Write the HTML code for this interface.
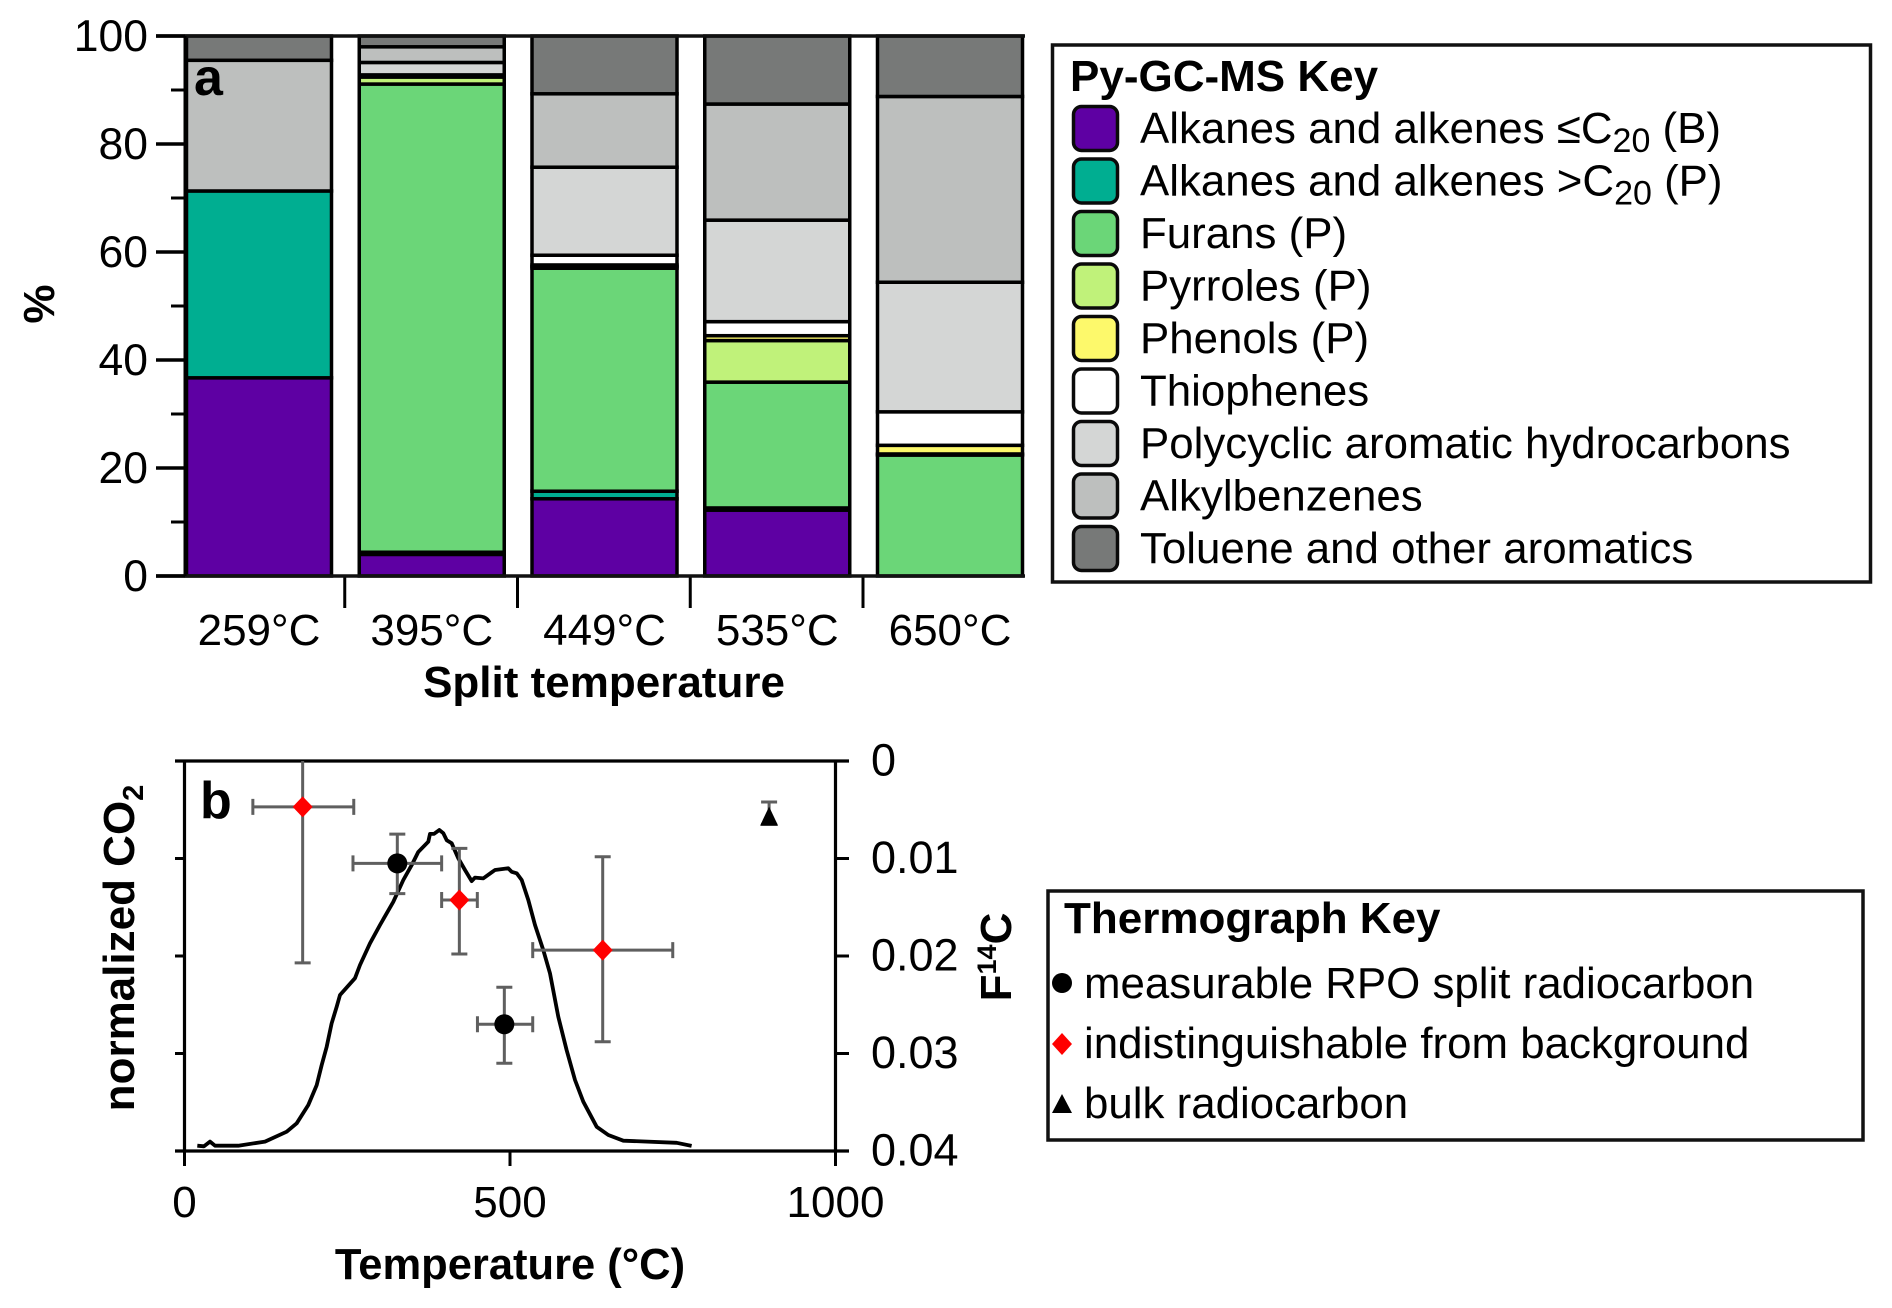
<!DOCTYPE html>
<html lang="en">
<head>
<meta charset="utf-8">
<title>Py-GC-MS and thermograph chart</title>
<style>
html,body{margin:0;padding:0;background:#fff;}
svg{display:block;font-family:"Liberation Sans",Arial,sans-serif;}
text{fill:#000;}
.t{font-size:43.85px;}
.b{font-size:44px;font-weight:bold;}
</style>
</head>
<body>
<svg id="fig" width="1892" height="1308" viewBox="0 0 1892 1308" xmlns="http://www.w3.org/2000/svg">
  <g id="panelA"></g>
  <g id="panelB"></g>

  <text class="b" style="font-size:52px" x="194" y="95">a</text>
  <text class="b" style="font-size:52px" x="200" y="818">b</text>
  <text class="b" x="54" y="304" text-anchor="middle" transform="rotate(-90 54 304)">%</text>
  <text class="b" x="604" y="697" text-anchor="middle">Split temperature</text>
  <text class="b" style="font-size:43.5px" x="510" y="1279" text-anchor="middle">Temperature (°C)</text>
  <text class="b" x="134" y="948" text-anchor="middle" transform="rotate(-90 134 948)">normalized CO<tspan font-size="29" dy="9">2</tspan></text>
  <text class="b" x="1011" y="957" text-anchor="middle" transform="rotate(-90 1011 957)">F<tspan font-size="27" dy="-15">14</tspan><tspan dy="15">C</tspan></text>

  <g>
    <rect x="1052.5" y="45" width="818" height="537" fill="#fff" stroke="#111" stroke-width="3.5"/>
    <text class="b" x="1070" y="91">Py-GC-MS Key</text>
    <g>
      <rect x="1073.5" y="106.5" width="44" height="44" rx="8" fill="#5e00a3" stroke="#0a0a0a" stroke-width="3.5"/>
      <text class="t" x="1140" y="143">Alkanes and alkenes ≤C<tspan font-size="34" dy="9">20</tspan><tspan dy="-9"> (B)</tspan></text>
    </g>
    <g>
      <rect x="1073.5" y="159" width="44" height="44" rx="8" fill="#00ae91" stroke="#0a0a0a" stroke-width="3.5"/>
      <text class="t" x="1140" y="195.5">Alkanes and alkenes &gt;C<tspan font-size="34" dy="9">20</tspan><tspan dy="-9"> (P)</tspan></text>
    </g>
    <g>
      <rect x="1073.5" y="211.5" width="44" height="44" rx="8" fill="#6bd678" stroke="#0a0a0a" stroke-width="3.5"/>
      <text class="t" x="1140" y="248">Furans (P)</text>
    </g>
    <g>
      <rect x="1073.5" y="264" width="44" height="44" rx="8" fill="#c0f27a" stroke="#0a0a0a" stroke-width="3.5"/>
      <text class="t" x="1140" y="300.5">Pyrroles (P)</text>
    </g>
    <g>
      <rect x="1073.5" y="316.5" width="44" height="44" rx="8" fill="#fdf96b" stroke="#0a0a0a" stroke-width="3.5"/>
      <text class="t" x="1140" y="353">Phenols (P)</text>
    </g>
    <g>
      <rect x="1073.5" y="369" width="44" height="44" rx="8" fill="#ffffff" stroke="#0a0a0a" stroke-width="3.5"/>
      <text class="t" x="1140" y="405.5">Thiophenes</text>
    </g>
    <g>
      <rect x="1073.5" y="421.5" width="44" height="44" rx="8" fill="#d4d6d5" stroke="#0a0a0a" stroke-width="3.5"/>
      <text class="t" x="1140" y="458">Polycyclic aromatic hydrocarbons</text>
    </g>
    <g>
      <rect x="1073.5" y="474" width="44" height="44" rx="8" fill="#bdbfbe" stroke="#0a0a0a" stroke-width="3.5"/>
      <text class="t" x="1140" y="510.5">Alkylbenzenes</text>
    </g>
    <g>
      <rect x="1073.5" y="526.5" width="44" height="44" rx="8" fill="#777978" stroke="#0a0a0a" stroke-width="3.5"/>
      <text class="t" x="1140" y="563">Toluene and other aromatics</text>
    </g>
  </g>

  <g>
    <rect x="1048" y="891" width="815" height="249" fill="#fff" stroke="#111" stroke-width="3.5"/>
    <text class="b" x="1064" y="933">Thermograph Key</text>
    <g>
      <circle cx="1062" cy="983" r="10" fill="#000"/>
      <text class="t" x="1084" y="998">measurable RPO split radiocarbon</text>
    </g>
    <g>
      <polygon points="1062,1033 1072,1044 1062,1055 1052,1044" fill="#f00"/>
      <text class="t" x="1084" y="1058">indistinguishable from background</text>
    </g>
    <g>
      <polygon points="1062,1094 1072,1113 1052,1113" fill="#000"/>
      <text class="t" x="1084" y="1118">bulk radiocarbon</text>
    </g>
  </g>
</svg>

<script>
/* ---------- Panel a data ---------- */
const splitTemps = ['259°C', '395°C', '449°C', '535°C', '650°C'];
const seriesColors = ['#5e00a3', '#00ae91', '#6bd678', '#c0f27a', '#fdf96b', '#ffffff', '#d4d6d5', '#bdbfbe', '#777978'];
const seriesNames = ['alkanes-low', 'alkanes-high', 'furans', 'pyrroles', 'phenols', 'thiophenes', 'pah', 'alkylbenzenes', 'toluene'];
const alkanesLow = [36.7, 4.0, 14.3, 12.2, 0];
const alkanesHigh = [34.6, 0.4, 1.4, 0.4, 0];
const furans = [0, 86.7, 41.3, 23.3, 22.4];
const pyrroles = [0, 1.3, 0.3, 7.7, 0.2];
const phenols = [0, 0.2, 0.3, 0.9, 1.6];
const thiophenes = [0, 0.2, 1.8, 2.6, 6.2];
const pah = [0, 2.3, 16.3, 18.8, 24.0];
const alkylbenzenes = [24.2, 2.9, 13.6, 21.5, 34.4];
const toluene = [4.5, 2.0, 10.7, 12.6, 11.2];
const percentTicks = [0, 20, 40, 60, 80, 100];
const percentMinorTicks = [10, 30, 50, 70, 90];

/* ---------- Panel b data ---------- */
const curveTemp = [19.7, 30, 39.2, 46.9, 82.7, 123.7, 157, 172.3, 190.2, 203, 210.7, 218.4, 226, 233.8, 238.9, 261.9, 269.6, 284.9, 300.3, 320.8, 336.1, 349, 359.2, 374.5, 377.1, 383.3, 391.4, 397.6, 402.8, 410.4, 420.6, 430.9, 441.2, 446.2, 459, 471.9, 477, 497.4, 502.6, 510.3, 518, 528.1, 538.4, 551.2, 561.4, 574.2, 587, 599.8, 612.6, 633.2, 651, 674, 756, 779];
const curveCO2 = [0.0136, 0.012, 0.024, 0.0136, 0.0136, 0.024, 0.0495, 0.071, 0.118, 0.169, 0.2205, 0.2675, 0.327, 0.37, 0.4, 0.443, 0.477, 0.5325, 0.5795, 0.639, 0.695, 0.733, 0.767, 0.793, 0.813, 0.813, 0.823, 0.815, 0.797, 0.789, 0.7505, 0.7205, 0.692, 0.701, 0.699, 0.7145, 0.7205, 0.725, 0.716, 0.712, 0.695, 0.6435, 0.5795, 0.515, 0.4555, 0.344, 0.259, 0.182, 0.1265, 0.062, 0.041, 0.0265, 0.021, 0.013];
const pointKinds = ['background', 'measurable', 'background', 'measurable', 'background', 'bulk'];
const pointTemp = [181.5, 326.9, 422.2, 491.3, 642.4, 898];
const pointTempLow = [105, 258.8, 395, 450, 534.9, 898];
const pointTempHigh = [260, 395, 449.8, 534.9, 750, 898];
const pointF14C = [0.0047, 0.0105, 0.01426, 0.027, 0.0194, 0.0057];
const pointF14CLow = [0, 0.0075, 0.00896, 0.0232, 0.00982, 0.0042];
const pointF14CHigh = [0.0207, 0.0136, 0.0198, 0.031, 0.0288, 0.0065];
const tempTicks = [0, 500, 1000];
const f14cTicks = [0, 0.01, 0.02, 0.03, 0.04];
const f14cTickLabels = ['0', '0.01', '0.02', '0.03', '0.04'];

const NS = 'http://www.w3.org/2000/svg';
function mk(parent, tag, attrs, txt) {
  const el = document.createElementNS(NS, tag);
  for (const k in attrs) el.setAttribute(k, attrs[k]);
  if (txt !== undefined) el.textContent = txt;
  parent.appendChild(el);
  return el;
}

/* ---------- Panel a ---------- */
const A = { left: 185, right: 1024, top: 36, bottom: 576, barW: 148, period: 172.75 };
const pctY = v => A.bottom - (v / 100) * (A.bottom - A.top);
const barX = i => A.left + i * A.period;
const gA = document.getElementById('panelA');
const allSeries = [alkanesLow, alkanesHigh, furans, pyrroles, phenols, thiophenes, pah, alkylbenzenes, toluene];

splitTemps.forEach(function (label, i) {
  let acc = 0;
  allSeries.forEach(function (series, s) {
    const val = series[i];
    if (val > 0) {
      const rect = mk(gA, 'rect', {
        x: barX(i) + 1.5, y: pctY(acc + val), width: A.barW - 3, height: pctY(acc) - pctY(acc + val),
        fill: seriesColors[s], stroke: '#000', 'stroke-width': 3.5
      });
      
      
    }
    acc += val;
  });
  const lab = mk(gA, 'text', { x: barX(i) + A.barW / 2, y: 645, 'text-anchor': 'middle', 'font-size': 44 }, label);
  
  
  if (i > 0) {
    const sep = mk(gA, 'line', { x1: barX(i) - 13, x2: barX(i) - 13, y1: A.bottom, y2: 608, stroke: '#000', 'stroke-width': 3 });
    
    
  }
});

[[A.top, 'top-frame-line'], [A.bottom, 'x-axis-line']].forEach(function (d) {
  const ln = mk(gA, 'line', { x1: 156, x2: A.right + 1, y1: d[0], y2: d[0], stroke: '#111', 'stroke-width': 3.5 });
  
  
});
const yAxisA = mk(gA, 'line', { x1: A.left, x2: A.left, y1: A.top, y2: A.bottom, stroke: '#000', 'stroke-width': 3 });



percentTicks.forEach(function (v) {
  const tk = mk(gA, 'line', { x1: 156, x2: A.left, y1: pctY(v), y2: pctY(v), stroke: '#000', 'stroke-width': 3.5 });
  
  
  const lb = mk(gA, 'text', { x: 148, y: pctY(v) + 15, 'text-anchor': 'end', 'font-size': 44.5 }, String(v));
  
  
});
percentMinorTicks.forEach(function (v) {
  const tk = mk(gA, 'line', { x1: 171, x2: A.left, y1: pctY(v), y2: pctY(v), stroke: '#000', 'stroke-width': 3 });
  
  
});

/* ---------- Panel b ---------- */
const B = { left: 184.5, right: 835.5, top: 761, bottom: 1151 };
const tX = t => B.left + (t / 1000) * (B.right - B.left);
const fY = f => B.top + (f / 0.04) * (B.bottom - B.top);
const cY = c => B.bottom - c * (B.bottom - B.top);
const gB = document.getElementById('panelB');

[[B.left, B.top, B.left, B.bottom, 'left-axis-line'],
 [B.right, B.top, B.right, B.bottom, 'right-axis-line'],
 [175, B.top, 849, B.top, 'top-axis-line'],
 [175, B.bottom, 849, B.bottom, 'bottom-axis-line']].forEach(function (d) {
  const ln = mk(gB, 'line', { x1: d[0], y1: d[1], x2: d[2], y2: d[3], stroke: '#000', 'stroke-width': 3.2 });
  
  
});

f14cTicks.forEach(function (f, i) {
  const left = mk(gB, 'line', { x1: 175, x2: B.left, y1: fY(f), y2: fY(f), stroke: '#000', 'stroke-width': 3 });
  
  
  const right = mk(gB, 'line', { x1: B.right, x2: 849, y1: fY(f), y2: fY(f), stroke: '#000', 'stroke-width': 3 });
  
  
  const lb = mk(gB, 'text', { x: 871, y: fY(f) + 14.5, 'font-size': 45 }, f14cTickLabels[i]);
  
  
});

tempTicks.forEach(function (t) {
  const tk = mk(gB, 'line', { x1: tX(t), x2: tX(t), y1: B.bottom, y2: 1166, stroke: '#000', 'stroke-width': 3 });
  
  
  const lb = mk(gB, 'text', { x: tX(t), y: 1217, 'text-anchor': 'middle', 'font-size': 44 }, String(t));
  
  
});

const curvePts = curveTemp.map((t, i) => tX(t).toFixed(1) + ',' + cY(curveCO2[i]).toFixed(1)).join(' ');
const curve = mk(gB, 'polyline', { points: curvePts, fill: 'none', stroke: '#000', 'stroke-width': 3.8, 'stroke-linejoin': 'round' });



const errColor = '#5f5f5f';
pointTemp.forEach(function (t, i) {
  const x = tX(t), y = fY(pointF14C[i]);
  const x0 = tX(pointTempLow[i]), x1 = tX(pointTempHigh[i]);
  const y0 = fY(pointF14CLow[i]), y1 = fY(pointF14CHigh[i]);
  const d = 'M' + x + ' ' + y0 + 'V' + y1 +
    'M' + (x - 8) + ' ' + y1 + 'H' + (x + 8) +
    (pointF14CLow[i] > 0 ? 'M' + (x - 8) + ' ' + y0 + 'H' + (x + 8) : '') +
    (x1 > x0 ? 'M' + x0 + ' ' + y + 'H' + x1 +
      'M' + x0 + ' ' + (y - 8) + 'V' + (y + 8) +
      'M' + x1 + ' ' + (y - 8) + 'V' + (y + 8) : '');
  const err = mk(gB, 'path', { d: d, fill: 'none', stroke: errColor, 'stroke-width': 3 });
  
  
  let m;
  if (pointKinds[i] === 'measurable') {
    m = mk(gB, 'circle', { cx: x, cy: y, r: 10, fill: '#000' });
  } else if (pointKinds[i] === 'background') {
    m = mk(gB, 'polygon', { points: [x, y - 10.5, x + 10, y, x, y + 10.5, x - 10, y].join(' '), fill: '#f00' });
  } else {
    m = mk(gB, 'polygon', { points: [x, y - 10, x + 9, y + 9, x - 9, y + 9].join(' '), fill: '#000' });
  }
  
  
});
</script>
</body>
</html>
